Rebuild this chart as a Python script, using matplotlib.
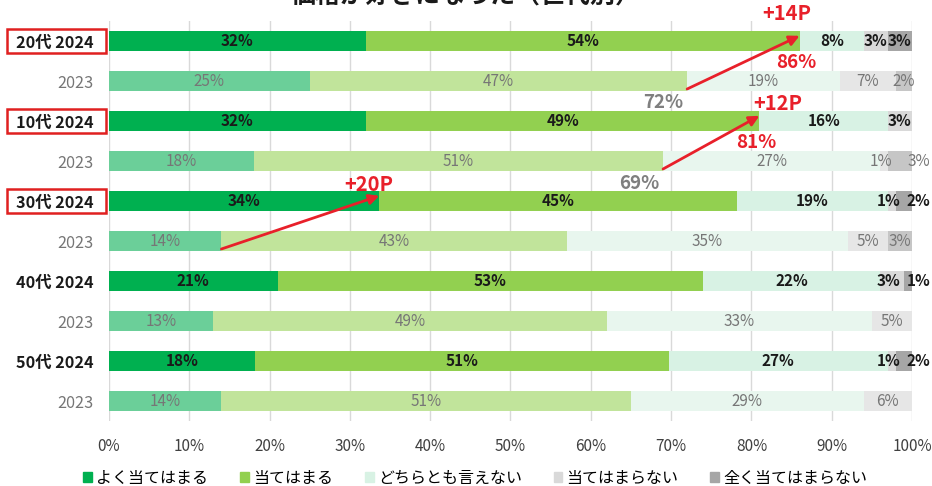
import matplotlib
matplotlib.use("Agg")
import matplotlib.pyplot as plt
import numpy as np
from matplotlib.patches import Rectangle, Patch

plt.rcParams['font.family'] = ['Noto Sans CJK JP', 'DejaVu Sans']

rows = ["20代 2024", "2023", "10代 2024", "2023", "30代 2024", "2023",
        "40代 2024", "2023", "50代 2024", "2023"]
categories = ["よく当てはまる", "当てはまる", "どちらとも言えない", "当てはまらない", "全く当てはまらない"]
yoku = [32, 25, 32, 18, 34, 14, 21, 13, 18, 14]
ate = [54, 47, 49, 51, 45, 43, 53, 49, 51, 51]
dochira = [8, 19, 16, 27, 19, 35, 22, 33, 27, 29]
atenai = [3, 7, 3, 1, 1, 5, 3, 5, 1, 6]
zenku = [3, 2, 0, 3, 2, 3, 1, 0, 2, 0]
xticks = [0, 10, 20, 30, 40, 50, 60, 70, 80, 90, 100]
boxed = ["20代 2024", "10代 2024", "30代 2024"]

# (change label, 2024 total, 2023 total, 2024 row, 2023 row, n categories summed)
changes = [("+14P", "86%", "72%", 0, 1, 2),
           ("+12P", "81%", "69%", 2, 3, 2),
           ("+20P", None, None, 4, 5, 1)]
# label offsets (dx, dy) for the change labels
change_offsets = [(-1.6, -0.68), (2.3, -0.45), (-1.3, -0.42)]

colors24 = ['#00B050', '#92D050', '#D8F2E4', '#D9D9D9', '#A6A6A6']
colors23 = ['#6BCF99', '#C1E49B', '#E8F6EE', '#E6E6E6', '#C6C6C6']

data = np.array([yoku, ate, dochira, atenai, zenku], dtype=float)
pct = data / data.sum(axis=0) * 100

fig = plt.figure(figsize=(9.32, 4.86), dpi=100)
ax = fig.add_axes([109/932, 1-421/486, 803/932, 400/486])

y = np.arange(len(rows))
left = np.zeros(len(rows))
is24 = np.array(["2024" in r for r in rows])
for k in range(5):
    cols = [colors24[k] if is24[i] else colors23[k] for i in range(len(rows))]
    ax.barh(y, pct[k], left=left, height=0.5, color=cols, zorder=2)
    for i in range(len(rows)):
        v = data[k, i]
        if v > 0:
            xc = left[i] + pct[k, i]/2
            tight = data[3, i] > 0 and data[4, i] > 0 and data[3, i] + data[4, i] <= 4
            if tight and k == 4:
                xc = 100.8
            elif tight and k == 3:
                xc -= 0.4
            ax.text(xc, y[i], f"{int(v)}%",
                    ha='center', va='center', fontsize=11,
                    color='#1a1a1a' if is24[i] else '#767676',
                    fontweight='bold' if is24[i] else 'normal', zorder=4,
                    clip_on=False)
    left += pct[k]

cum = np.cumsum(pct, axis=0)

ax.set_xlim(0, 100)
ax.set_ylim(len(rows)-0.5, -0.5)
ax.set_xticks(xticks)
ax.set_xticklabels([f"{t}%" for t in xticks], fontsize=11, color='#404040')
ax.set_yticks(y)
ax.set_yticklabels(rows, fontsize=11.7)
for lab, r in zip(ax.get_yticklabels(), rows):
    if "2024" in r:
        lab.set_fontweight('bold'); lab.set_color('#1a1a1a')
    else:
        lab.set_color('#767676')
ax.tick_params(length=0, pad=11)
ax.tick_params(axis='x', pad=12)
ax.xaxis.grid(True, color='#D9D9D9', lw=1, zorder=0)
for s in ax.spines.values():
    s.set_visible(False)

# red boxes around labels
for r in boxed:
    i = rows.index(r)
    yc = 41 + 40*i
    fig.patches.append(Rectangle((7/932, 1-(yc+12)/486), 99/932, 24/486,
                                 transform=fig.transFigure, fill=False,
                                 edgecolor='#E02020', lw=1.8))

# arrows and annotations
red = '#E8202A'
for (lab, t24, t23, r24, r23, n), (dx, dy) in zip(changes, change_offsets):
    x24 = cum[n-1, r24]
    x23 = cum[n-1, r23]
    ax.annotate("", xy=(x24, r24-0.13), xytext=(x23, r23+0.2),
                arrowprops=dict(arrowstyle='-|>', color=red, lw=2,
                                mutation_scale=15, shrinkA=0, shrinkB=0),
                zorder=5)
    ax.text(x24 + dx, r24 + dy, lab, ha='center', va='center', fontsize=14.5,
            color=red, fontweight='bold', clip_on=False, zorder=5)
    if t24:
        ax.text(x24 - 0.4, r24 + 0.53, t24, ha='center', va='center', fontsize=13.5,
                color=red, fontweight='bold', zorder=5)
        ax.text(x23 - 3.0, r23 + 0.55, t23, ha='center', va='center', fontsize=13.5,
                color='#7F7F7F', fontweight='bold', zorder=5)

handles = [Patch(color=c) for c in colors24]
fig.legend(handles, categories, loc='center', bbox_to_anchor=(0.51, 0.016), ncol=5,
           frameon=False, fontsize=11.5, handlelength=0.55, handleheight=0.55,
           handletextpad=0.25, columnspacing=2.0)

# title, cut off at top as in the reference
fig.text(0.5, 1.008, "価格が好きになった（世代別）", ha='center', va='center',
         fontsize=18, fontweight='bold', color='#1a1a1a')

fig.savefig("out.png", dpi=100)
